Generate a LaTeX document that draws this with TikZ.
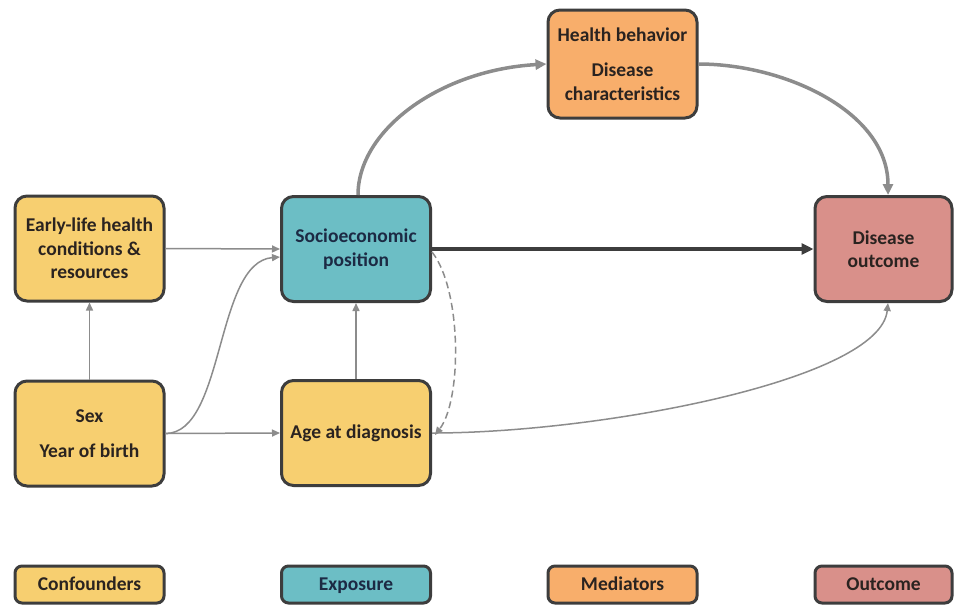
\documentclass[tikz,border=0pt]{standalone}
\usepackage{fontspec}
\setmainfont{Carlito}
\usetikzlibrary{arrows.meta}
\definecolor{conf}{HTML}{F7CF70}
\definecolor{expo}{HTML}{6CBEC5}
\definecolor{medi}{HTML}{F8AE6B}
\definecolor{outc}{HTML}{D9908A}
\definecolor{bord}{HTML}{3D3D3D}
\definecolor{txt}{HTML}{2A2320}
\definecolor{navy}{HTML}{1C2A44}
\definecolor{arr}{HTML}{8C8C8C}
\begin{document}
\begin{tikzpicture}[x=1pt,y=-1pt,
  box/.style={draw=bord, line width=3pt, rounded corners=12pt, align=center,
    text=txt, font=\fontsize{19.5}{23.5}\selectfont\bfseries, inner sep=0pt,
    minimum width=149pt, minimum height=105pt},
  legbox/.style={box, minimum height=37pt, rounded corners=7pt, text height=13.5pt, text depth=1pt},
  thin/.style={draw=arr, line width=1.5pt, -{Triangle[length=8pt,width=7pt]}},
  thick/.style={draw=arr, line width=3.5pt, -{Triangle[length=11pt,width=10pt]}},
  main/.style={draw=bord, line width=3.5pt, -{Triangle[length=12pt,width=11pt]}}]
\useasboundingbox (0,0) rectangle (955,606);
\fill[white] (0,0) rectangle (955,606);
% nodes
\node[box, fill=conf] (early) at (89.5,248.5) {Early-life health\\conditions \&\\resources};
\node[box, fill=expo, text=navy] (sep) at (356,249) {Socioeconomic\\position};
\node[box, fill=conf] (sex) at (89.5,433.5) {Sex\\[12pt]Year of birth};
\node[box, fill=conf] (age) at (356,433) {Age at diagnosis};
\node[box, fill=medi, minimum height=108pt] (hb) at (622.5,64) {Health behavior\\[12pt]Disease\\characteristics};
\node[box, fill=outc, minimum width=137pt] (do) at (883.5,249) {Disease\\outcome};
% legend
\node[legbox, fill=conf] (l1) at (89.5,584.5) {Confounders};
\node[legbox, fill=expo, text=navy] (l2) at (356,584.5) {Exposure};
\node[legbox, fill=medi] (l3) at (622.5,584.5) {Mediators};
\node[legbox, fill=outc, minimum width=137pt] (l4) at (883.5,584.5) {Outcome};
% connectors
\draw[thin] (early.east) -- (sep.west);
\draw[thin] (sex.north) -- (early.south);
\draw[thin] (age.north) -- (sep.south);
\draw[thin] (sex.east) -- (age.west);
\draw[thin] (sex.east) .. controls (225,433.5) and (215,262) .. ([yshift=-8pt]sep.west);
\draw[main] (sep.east) -- (do.west);
\draw[thick] ([xshift=2pt]sep.north) .. controls (358,130) and (440,70) .. (hb.west);
\draw[thick] (hb.east) .. controls (785,64) and (888,112) .. ([xshift=4.5pt]do.north);
\draw[thin] (age.east) .. controls (600,433) and (880,380) .. ([xshift=4.5pt]do.south);
\draw[thin, dashed, dash pattern=on 7pt off 4pt] ([yshift=-3pt]sep.east) .. controls (462,290) and (462,400) .. ([xshift=3pt,yshift=-2pt]age.east);
\end{tikzpicture}
\end{document}
